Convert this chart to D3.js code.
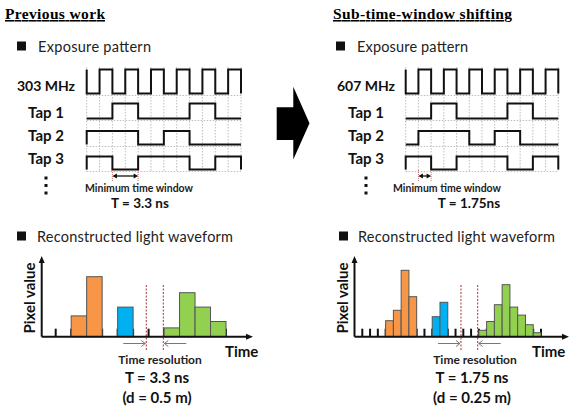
<!DOCTYPE html>
<html lang="en">
<head>
  <meta charset="utf-8" />
  <title>Sub-time-window shifting</title>
  <script src="https://d3js.org/d3.v7.min.js"></script>
  <style>
    html, body { margin: 0; padding: 0; background: #fff; }
    svg { display: block; }
    .sans { font-family: Lato, "Open Sans", sans-serif; }
    .head { font-family: "Liberation Serif", "Times New Roman", serif; font-weight: bold; text-decoration: underline; }
    .grid { stroke: #bdbdbd; stroke-width: 1; stroke-dasharray: 1.5 1.5; }
    .wave { fill: none; stroke: #111; stroke-width: 2; }
    .bar { stroke: #555; stroke-width: 1; }
  </style>
</head>
<body>
<svg id="fig" width="569" height="407"></svg>
<script>
  // --- data -------------------------------------------------------------
  // exposure pattern, one value per time unit (12 units)
  const clockPattern = [0, 1, 0, 1, 0, 1, 0, 1, 0, 1, 0, 1];
  const tap1Pattern = [0, 0, 1, 1, 0, 0, 0, 0, 1, 1, 0, 0];
  const tap2Left = [1, 1, 1, 1, 0, 0, 1, 1, 0, 0, 0, 0];
  const tap2Right = [0, 1, 1, 1, 1, 0, 0, 1, 1, 0, 0, 0];
  const tap3Pattern = [1, 1, 0, 0, 1, 1, 1, 1, 0, 0, 1, 1];
  const rowLabelsLeft = ["303 MHz", "Tap 1", "Tap 2", "Tap 3"];
  const rowLabelsRight = ["607 MHz", "Tap 1", "Tap 2", "Tap 3"];

  // reconstructed waveform (pixel value 0-100), first bin index + values
  const leftOrange = [26, 75], leftOrangeStart = 1;
  const leftBlue = [37], leftBlueStart = 4;
  const leftGreen = [11, 55, 37, 19], leftGreenStart = 7;
  const leftTicks = d3.range(0, 12);
  const leftResLines = [5.85, 6.95];

  const rightOrange = [20, 33, 83, 50], rightOrangeStart = 3;
  const rightBlue = [25, 43], rightBlueStart = 9;
  const rightGreen = [8, 19, 40, 65, 37, 27, 15, 5], rightGreenStart = 15;
  const rightTicks = d3.range(0, 24);
  const rightResLines = [12.7, 14.85];

  const colors = { orange: "#f79646", blue: "#00b0f0", green: "#92d050" };

  const svg = d3.select("#fig");

  // --- headings ------------------------------------------------------------
  svg.append("text").attr("class", "head").attr("x", 5).attr("y", 19)
    .attr("font-size", 15.5).attr("textLength", 100).text("Previous work");
  svg.append("text").attr("class", "head").attr("x", 333).attr("y", 19)
    .attr("font-size", 15.5).attr("textLength", 179).text("Sub-time-window shifting");

  function bullet(x, y, label, tx, len) {
    svg.append("rect").attr("x", x).attr("y", y - 4.5).attr("width", 9).attr("height", 9).attr("fill", "#111");
    svg.append("text").attr("class", "sans").attr("x", tx).attr("y", y)
      .attr("dominant-baseline", "central").attr("font-size", 14.5)
      .attr("textLength", len).attr("fill", "#222").text(label);
  }
  bullet(17, 46, "Exposure pattern", 38, 113);
  bullet(336, 46, "Exposure pattern", 357, 111);
  bullet(17, 236, "Reconstructed light waveform", 37, 196);
  bullet(339, 236, "Reconstructed light waveform", 358, 197);

  // --- exposure pattern ----------------------------------------------------
  const levels = [[69.5, 93.5], [103.5, 118.5], [131, 144.5], [156.5, 169.5]];
  const labelY = [85, 112, 135, 158];

  function timing(x0, x1, labelX, labels, patterns, colorsRow, arrowUnits, textX, tText) {
    const x = d3.scaleLinear().domain([0, 12]).range([x0, x1]);
    const g = svg.append("g");
    // grid
    g.selectAll(".vg").data(d3.range(0, 13)).join("line").attr("class", "grid")
      .attr("x1", d => x(d)).attr("x2", d => x(d)).attr("y1", 67).attr("y2", 172);
    g.selectAll(".hg").data(levels).join("line").attr("class", "grid")
      .attr("x1", x0).attr("x2", x1).attr("y1", d => d[1] + 2).attr("y2", d => d[1] + 2);

    patterns.forEach((p, i) => {
      const [hi, lo] = levels[i];
      const y = v => (v ? hi : lo);
      const pts = [[x(0), i === 0 ? hi : lo], [x(0), y(p[0])]];
      p.forEach((v, k) => { pts.push([x(k), y(v)]); pts.push([x(k + 1), y(v)]); });
      pts.push([x(12), lo]);
      g.append("path").attr("class", "wave").attr("stroke", colorsRow[i])
        .attr("stroke-linejoin", "miter").attr("d", d3.line()(pts));
      g.append("text").attr("class", "sans").attr("x", labelX).attr("y", labelY[i])
        .attr("text-anchor", "middle").attr("dominant-baseline", "central")
        .attr("font-size", i === 0 ? 14 : 15).attr("font-weight", "bold").attr("fill", "#111").text(labels[i]);
    });

    // vertical dots
    g.selectAll(".dot").data([178, 185.5, 193]).join("rect")
      .attr("x", labelX - 1.5).attr("y", d => d - 1.5).attr("width", 3).attr("height", 3).attr("fill", "#111");

    // minimum time window marker
    const a0 = x(arrowUnits[0]), a1 = x(arrowUnits[1]);
    [a0, a1].forEach(ax => g.append("line").attr("x1", ax).attr("x2", ax).attr("y1", 170).attr("y2", 181)
      .attr("stroke", "#b05050").attr("stroke-width", 0.8).attr("stroke-dasharray", "1 1"));
    g.append("line").attr("x1", a0 + 2).attr("x2", a1 - 2).attr("y1", 176).attr("y2", 176)
      .attr("stroke", "#111").attr("stroke-width", 1.3);
    const ah = 3.5;
    g.append("path").attr("fill", "#111")
      .attr("d", `M${a0},176L${a0 + ah + 1},${176 - 2.5}L${a0 + ah + 1},${176 + 2.5}Z M${a1},176L${a1 - ah - 1},${176 - 2.5}L${a1 - ah - 1},${176 + 2.5}Z`);

    g.append("text").attr("class", "sans").attr("x", textX).attr("y", 187.5)
      .attr("text-anchor", "middle").attr("dominant-baseline", "central").attr("font-size", 10.5)
      .attr("font-weight", "bold").attr("fill", "#222").text("Minimum time window");
    g.append("text").attr("class", "sans").attr("x", x0 < 200 ? 140 : 469).attr("y", 203)
      .attr("text-anchor", "middle").attr("dominant-baseline", "central").attr("font-size", 13.5)
      .attr("font-weight", "bold").attr("fill", "#111").text(tText);
  }

  timing(86.7, 241, 46, rowLabelsLeft, [clockPattern, tap1Pattern, tap2Left, tap3Pattern],
    ["#111", "#111", "#111", "#111"], [2, 4], 139, "T = 3.3 ns");
  timing(405.7, 558.3, 366, rowLabelsRight, [clockPattern, tap1Pattern, tap2Right, tap3Pattern],
    ["#111", "#111", "#c0504d", "#111"], [1, 2], 447, "T = 1.75ns");

  // big arrow between the panels
  svg.append("path").attr("fill", "#000")
    .attr("d", d3.line()([[276.7, 107.3], [293.3, 107.3], [293.3, 86.7], [309.5, 123.3],
      [293.3, 159.5], [293.3, 140], [276.7, 140]]) + "Z");

  // --- reconstructed waveform ----------------------------------------------
  const baseY = 336.7;
  const y = d3.scaleLinear().domain([0, 100]).range([baseY, baseY - 80]);

  function waveform(o) {
    const g = svg.append("g");
    const x = d3.scaleLinear().domain([0, o.ticks.length - 1]).range(o.range);
    const bw = x(1) - x(0);

    // ticks
    g.selectAll(".tk").data(o.ticks).join("line")
      .attr("x1", d => x(d)).attr("x2", d => x(d)).attr("y1", baseY - 8).attr("y2", baseY)
      .attr("stroke", "#111").attr("stroke-width", 2);

    // bars
    [[o.orange, o.orangeStart, colors.orange], [o.blue, o.blueStart, colors.blue], [o.green, o.greenStart, colors.green]]
      .forEach(([vals, start, c]) => {
        g.selectAll(null).data(vals).join("rect").attr("class", "bar")
          .attr("x", (d, i) => x(start + i)).attr("width", bw)
          .attr("y", d => y(d)).attr("height", d => baseY - y(d)).attr("fill", c);
      });

    // resolution lines
    g.selectAll(".rl").data(o.res).join("line")
      .attr("x1", d => x(d)).attr("x2", d => x(d)).attr("y1", 285).attr("y2", 350)
      .attr("stroke", "#a33").attr("stroke-width", 1).attr("stroke-dasharray", "2 1.5");
    const r0 = x(o.res[0]), r1 = x(o.res[1]);
    const ay = 343.5;
    g.append("line").attr("x1", r0 - 23).attr("x2", r0 - 1).attr("y1", ay).attr("y2", ay).attr("stroke", "#777");
    g.append("path").attr("fill", "none").attr("stroke", "#777")
      .attr("d", `M${r0 - 5},${ay - 3}L${r0 - 1},${ay}L${r0 - 5},${ay + 3}`);
    g.append("line").attr("x1", r1 + 1).attr("x2", r1 + 23).attr("y1", ay).attr("y2", ay).attr("stroke", "#777");
    g.append("path").attr("fill", "none").attr("stroke", "#777")
      .attr("d", `M${r1 + 5},${ay - 3}L${r1 + 1},${ay}L${r1 + 5},${ay + 3}`);

    // axes
    g.append("line").attr("x1", o.axisX).attr("x2", o.axisX).attr("y1", 261).attr("y2", baseY)
      .attr("stroke", "#111").attr("stroke-width", 2);
    g.append("line").attr("x1", o.axisX).attr("x2", o.axisEnd - 4).attr("y1", baseY).attr("y2", baseY)
      .attr("stroke", "#111").attr("stroke-width", 2);
    g.append("path").attr("fill", "#111")
      .attr("d", `M${o.axisX},256L${o.axisX - 3},263L${o.axisX + 3},263Z M${o.axisEnd},${baseY}L${o.axisEnd - 7},${baseY - 3}L${o.axisEnd - 7},${baseY + 3}Z`);

    g.append("text").attr("class", "sans").attr("transform", `translate(${o.axisX - 13},298) rotate(-90)`)
      .attr("text-anchor", "middle").attr("dominant-baseline", "central").attr("font-size", 15)
      .attr("font-weight", "bold").attr("fill", "#111").text("Pixel value");
    g.append("text").attr("class", "sans").attr("x", o.timeX).attr("y", 351)
      .attr("dominant-baseline", "central").attr("font-size", 15)
      .attr("font-weight", "bold").attr("fill", "#111").text("Time");

    const cx = o.textX;
    g.append("text").attr("class", "sans").attr("x", cx + 3).attr("y", 359)
      .attr("text-anchor", "middle").attr("dominant-baseline", "central").attr("font-size", 12)
      .attr("font-weight", "bold").attr("fill", "#222").text("Time resolution");
    g.append("text").attr("class", "sans").attr("x", cx).attr("y", 377)
      .attr("text-anchor", "middle").attr("dominant-baseline", "central").attr("font-size", 15)
      .attr("font-weight", "bold").attr("fill", "#111").text(o.tText);
    g.append("text").attr("class", "sans").attr("x", cx).attr("y", 397)
      .attr("text-anchor", "middle").attr("dominant-baseline", "central").attr("font-size", 15)
      .attr("font-weight", "bold").attr("fill", "#111").text(o.dText);
  }

  waveform({
    range: [55.7, 226], ticks: leftTicks, axisX: 41.7, axisEnd: 253, timeX: 225, textX: 157,
    orange: leftOrange, orangeStart: leftOrangeStart, blue: leftBlue, blueStart: leftBlueStart,
    green: leftGreen, greenStart: leftGreenStart, res: leftResLines,
    tText: "T = 3.3 ns", dText: "(d = 0.5 m)"
  });
  waveform({
    range: [362.3, 541], ticks: rightTicks, axisX: 354.5, axisEnd: 569, timeX: 532, textX: 472,
    orange: rightOrange, orangeStart: rightOrangeStart, blue: rightBlue, blueStart: rightBlueStart,
    green: rightGreen, greenStart: rightGreenStart, res: rightResLines,
    tText: "T = 1.75 ns", dText: "(d = 0.25 m)"
  });
</script>
</body>
</html>
